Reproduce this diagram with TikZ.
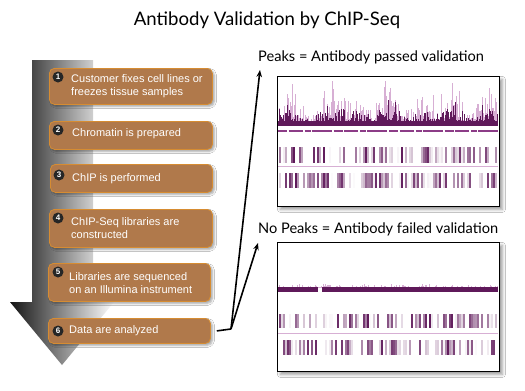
\documentclass[tikz,border=0pt]{standalone}
\usepackage{fontspec}
\setmainfont{Liberation Sans}
\newfontfamily\titlefont{Lato}
\usetikzlibrary{arrows.meta,shadows.blur}
\definecolor{boxfill}{RGB}{176,121,75}
\definecolor{boxedge}{RGB}{214,140,50}
\definecolor{pdark}{RGB}{95,25,90}
\definecolor{plight}{RGB}{215,175,212}
\definecolor{pmid}{RGB}{140,60,135}
\begin{document}
\begin{tikzpicture}[x=1pt,y=-1pt,
  stepbox/.style={draw=boxedge, line width=0.8pt, fill=boxfill, rounded corners=5pt,
    inner sep=0pt, anchor=north west,
    blur shadow={shadow xshift=2pt, shadow yshift=-2pt, shadow blur radius=2pt, shadow opacity=35}},
  numdot/.style={circle, fill=black!85, text=white, inner sep=0pt, minimum size=11pt,
    font=\bfseries\fontsize{8}{8}\selectfont},
  steptext/.style={text=white, align=left, inner sep=0pt, anchor=west,
    font=\fontsize{11}{13}\selectfont},
  panel/.style={draw=black, line width=0.8pt, fill=white, inner sep=0pt, anchor=north west,
    blur shadow={shadow xshift=3pt, shadow yshift=-3pt, shadow blur radius=3pt, shadow opacity=40}},
  lbl/.style={font=\titlefont\fontsize{14.6}{14.6}\selectfont, inner sep=0pt, anchor=west},
  conn/.style={line width=1.6pt, black},
  connarrow/.style={conn, -{Stealth[length=7pt,width=5.5pt]}}]
\useasboundingbox (0,0) rectangle (525,391);
\fill[white] (0,0) rectangle (525,391);

% title
\node[font=\titlefont\fontsize{18.6}{18.6}\selectfont] (title) at (267,20) {Antibody Validation by ChIP-Seq};

% big gradient arrow
\shade[left color=black!92, right color=white]
  (32,60) -- (93,60) -- (93,302) -- (114,302) -- (62,365) -- (10,302) -- (32,302) -- cycle;

% step boxes
\node[stepbox, minimum width=163pt, minimum height=36pt] (b1) at (49,68) {};
\node[stepbox, minimum width=163pt, minimum height=28pt] (b2) at (49,121) {};
\node[stepbox, minimum width=162pt, minimum height=28pt] (b3) at (50,164) {};
\node[stepbox, minimum width=163pt, minimum height=38pt] (b4) at (49,209) {};
\node[stepbox, minimum width=162pt, minimum height=38pt] (b5) at (48,263) {};
\node[stepbox, minimum width=162pt, minimum height=25pt] (b6) at (48,318) {};

\node[numdot] (n1) at (58,77) {1};
\node[numdot] (n2) at (58,130) {2};
\node[numdot] (n3) at (59,175) {3};
\node[numdot] (n4) at (58,218) {4};
\node[numdot] (n5) at (58,272) {5};
\node[numdot] (n6) at (58,331) {6};

\node[steptext] (t1) at (71,86) {Customer fixes cell lines or\\freezes tissue samples};
\node[steptext] (t2) at (72,134) {Chromatin is prepared};
\node[steptext] (t3) at (72,179) {ChIP is performed};
\node[steptext] (t4) at (71,228) {ChIP-Seq libraries are\\constructed};
\node[steptext] (t5) at (69,283) {Libraries are sequenced\\on an Illumina instrument};
\node[steptext] (t6) at (69,331) {Data are analyzed};

% panels
\node[panel, minimum width=222pt, minimum height=130pt] (p1) at (277,76) {};
\node[panel, minimum width=222pt, minimum height=129pt] (p2) at (277,242) {};

% labels
\node[lbl] (l1) at (258,57) {Peaks = Antibody passed validation};
\node[lbl] (l2) at (258,229) {No Peaks = Antibody failed validation};

% ---- peaks panel content
\pgfmathsetseed{11}
\foreach \x in {279,...,497} {
  \pgfmathsetmacro\m{0.6+0.4*sin(\x*9)*cos(\x*2.3)}
  \pgfmathsetmacro\hl{(8+44*rnd^2)*\m}
  \pgfmathsetmacro\hd{(4+24*rnd^2)*\m}
  \draw[plight, line width=1pt] (\x,124) -- ++(0,-\hl);
  \draw[pdark, line width=1pt] (\x,124) -- ++(0,-\hd);
}
\fill[pdark] (278,120.5) rectangle (498,125.5);
\draw[pmid, line width=2pt, dash pattern=on 9pt off 1.5pt on 14pt off 2pt on 6pt off 1pt on 20pt off 2pt]
  (278,131) -- (498,131);
\foreach \x in {279,281,...,496} {
  \pgfmathsetmacro\o{max(0,1.7*rnd-0.7)}
  \fill[pdark, opacity=\o] (\x,147) rectangle ++(1.7,16);
}
\draw[plight, line width=0.8pt] (278,166) -- (498,166);
\foreach \x in {279,281,...,496} {
  \pgfmathsetmacro\o{max(0,1.7*rnd-0.7)}
  \fill[pdark, opacity=\o] (\x,173) rectangle ++(1.7,15);
}

% ---- no peaks panel content
\foreach \x in {279,...,497} {
  \pgfmathsetmacro\hs{1+3*rnd^4}
  \draw[plight, line width=0.7pt] (\x,288) -- ++(0,-\hs);
}
\fill[pdark] (278,287) rectangle (318,292);
\fill[pdark] (322,287) rectangle (498,292);
\foreach \x in {279,281,...,496} {
  \pgfmathsetmacro\o{max(0,1.7*rnd-0.7)}
  \fill[pdark, opacity=\o] (\x,314) rectangle ++(1.7,14);
}
\draw[plight, line width=0.8pt] (278,333) -- (498,333);
\foreach \x in {279,281,...,496} {
  \pgfmathsetmacro\o{max(0,1.7*rnd-0.7)}
  \fill[pdark, opacity=\o] (\x,340) rectangle ++(1.7,15);
}

% connectors
\coordinate (j) at (231,329);
\coordinate (a1) at (260,70);
\coordinate (a2) at (258,243);
\draw[conn] ([xshift=6pt]b6.east) -- (j);
\draw[connarrow] (j) -- (a1);
\draw[connarrow] (j) -- (a2);
\end{tikzpicture}
\end{document}
